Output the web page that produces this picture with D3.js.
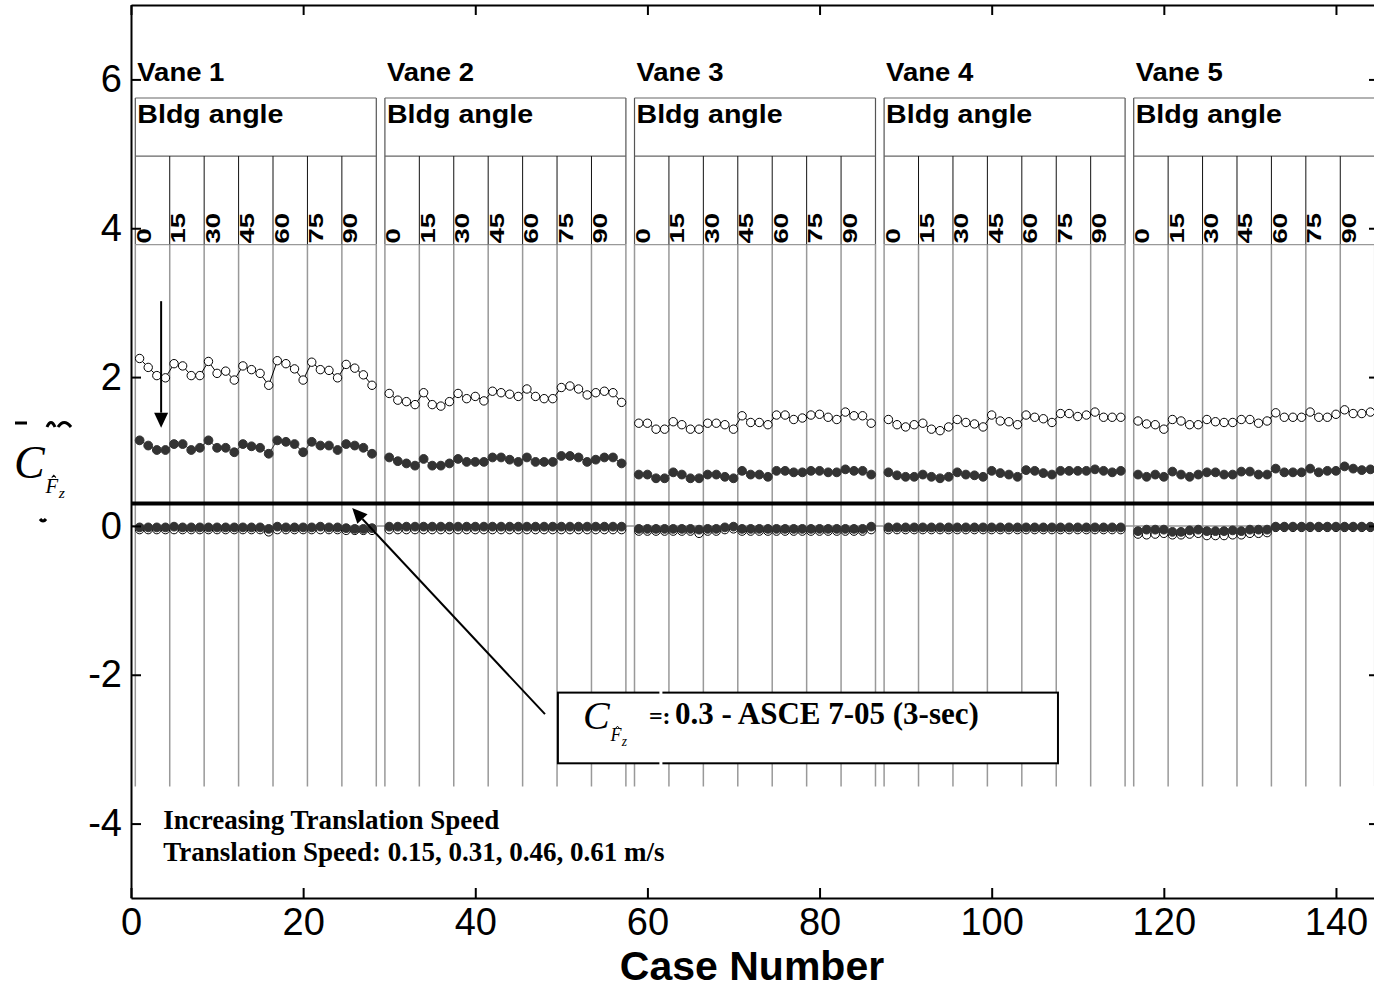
<!DOCTYPE html>
<html>
  <head>
    <meta charset="utf-8">
    <title>Vertical force coefficient by case</title>
    <script src="https://d3js.org/d3.v7.min.js"></script>
    <style>
      body { margin: 0; background: #fff; }
      svg { display: block; font-family: "Liberation Sans", Arial, sans-serif; }
      .axis text { font-size: 38px; fill: #000; font-family: "Liberation Sans", Arial, sans-serif; }
      .axis path, .axis line { stroke: #000; stroke-width: 2; }
      .serif { font-family: "Liberation Serif", "Times New Roman", serif; }
    </style>
  </head>
  <body>
    <svg id="chart" width="1374" height="990"></svg>
    <script>
      // values: 5 vanes x 7 bldg angles x 4 speeds = 28 cases per vane
      const vanes = ["Vane 1", "Vane 2", "Vane 3", "Vane 4", "Vane 5"];
      const bldgAngles = ["0", "15", "30", "45", "60", "75", "90"];
      const xTicks = [0, 20, 40, 60, 80, 100, 120, 140];
      const yTicks = [-4, -2, 0, 2, 4, 6];
      const asceLimit = 0.3;
      const noteLines = ["Increasing Translation Speed", "Translation Speed: 0.15, 0.31, 0.46, 0.61 m/s"];

      // peak (open circles)
      const peakOpen = [
        2.25, 2.13, 2.02, 1.99, 2.18, 2.15, 2.02, 2.02, 2.21, 2.05, 2.08, 1.96, 2.15, 2.10, 2.05, 1.89, 2.22, 2.18, 2.11, 1.96, 2.20, 2.10, 2.09, 1.99, 2.17, 2.12, 2.03, 1.89,
        1.78, 1.69, 1.67, 1.63, 1.79, 1.63, 1.61, 1.67, 1.78, 1.71, 1.74, 1.68, 1.81, 1.79, 1.77, 1.74, 1.84, 1.74, 1.71, 1.71, 1.86, 1.88, 1.84, 1.76, 1.79, 1.81, 1.79, 1.66,
        1.38, 1.38, 1.30, 1.30, 1.40, 1.36, 1.30, 1.30, 1.38, 1.38, 1.36, 1.30, 1.48, 1.39, 1.39, 1.36, 1.49, 1.49, 1.43, 1.45, 1.49, 1.50, 1.46, 1.43, 1.53, 1.48, 1.48, 1.38,
        1.43, 1.36, 1.33, 1.36, 1.38, 1.30, 1.28, 1.33, 1.43, 1.39, 1.37, 1.33, 1.49, 1.41, 1.40, 1.36, 1.49, 1.46, 1.44, 1.39, 1.51, 1.51, 1.47, 1.49, 1.53, 1.46, 1.46, 1.46,
        1.41, 1.37, 1.36, 1.30, 1.43, 1.41, 1.36, 1.36, 1.43, 1.40, 1.39, 1.39, 1.43, 1.43, 1.38, 1.41, 1.52, 1.46, 1.46, 1.46, 1.53, 1.46, 1.46, 1.50, 1.56, 1.51, 1.51, 1.53
      ];
      // mean (filled circles)
      const meanFilled = [
        1.15, 1.08, 1.02, 1.02, 1.10, 1.10, 1.02, 1.05, 1.15, 1.05, 1.05, 0.99, 1.10, 1.07, 1.05, 0.97, 1.15, 1.13, 1.10, 0.99, 1.13, 1.08, 1.08, 1.02, 1.10, 1.08, 1.05, 0.97,
        0.92, 0.87, 0.84, 0.81, 0.90, 0.81, 0.81, 0.84, 0.90, 0.86, 0.86, 0.86, 0.92, 0.92, 0.89, 0.86, 0.92, 0.86, 0.86, 0.86, 0.94, 0.94, 0.92, 0.86, 0.89, 0.92, 0.92, 0.84,
        0.69, 0.69, 0.64, 0.64, 0.72, 0.69, 0.64, 0.64, 0.69, 0.69, 0.66, 0.64, 0.74, 0.69, 0.69, 0.66, 0.74, 0.74, 0.72, 0.72, 0.74, 0.74, 0.72, 0.72, 0.76, 0.74, 0.74, 0.69,
        0.72, 0.68, 0.66, 0.66, 0.69, 0.66, 0.64, 0.66, 0.72, 0.69, 0.68, 0.66, 0.74, 0.71, 0.69, 0.66, 0.75, 0.74, 0.71, 0.69, 0.74, 0.74, 0.74, 0.74, 0.76, 0.74, 0.72, 0.74,
        0.69, 0.66, 0.69, 0.66, 0.73, 0.69, 0.66, 0.69, 0.72, 0.72, 0.69, 0.69, 0.73, 0.73, 0.69, 0.69, 0.77, 0.72, 0.72, 0.72, 0.77, 0.72, 0.74, 0.74, 0.80, 0.77, 0.75, 0.76
      ];
      // minimum (open and filled, near zero)
      const minOpen = [
        -0.05, -0.05, -0.05, -0.05, -0.05, -0.05, -0.05, -0.05, -0.05, -0.05, -0.05, -0.05, -0.05, -0.05, -0.05, -0.08, -0.05, -0.05, -0.05, -0.05, -0.05, -0.05, -0.05, -0.05, -0.06, -0.06, -0.06, -0.06,
        -0.05, -0.05, -0.05, -0.05, -0.05, -0.05, -0.05, -0.05, -0.05, -0.05, -0.05, -0.05, -0.05, -0.05, -0.05, -0.05, -0.05, -0.05, -0.05, -0.05, -0.05, -0.05, -0.05, -0.05, -0.05, -0.05, -0.05, -0.05,
        -0.07, -0.07, -0.07, -0.07, -0.07, -0.07, -0.07, -0.10, -0.07, -0.07, -0.05, -0.04, -0.07, -0.07, -0.07, -0.07, -0.07, -0.07, -0.07, -0.07, -0.07, -0.07, -0.07, -0.07, -0.07, -0.07, -0.07, -0.05,
        -0.05, -0.05, -0.05, -0.05, -0.05, -0.05, -0.05, -0.05, -0.05, -0.05, -0.05, -0.05, -0.05, -0.05, -0.05, -0.05, -0.05, -0.05, -0.05, -0.05, -0.05, -0.05, -0.05, -0.05, -0.05, -0.05, -0.05, -0.05,
        -0.11, -0.12, -0.11, -0.10, -0.12, -0.12, -0.11, -0.10, -0.13, -0.13, -0.13, -0.12, -0.12, -0.10, -0.10, -0.09, -0.02, -0.02, -0.02, -0.02, -0.02, -0.02, -0.02, -0.02, -0.02, -0.02, -0.02, -0.02
      ];
      const minFilled = [
        -0.02, -0.02, -0.02, -0.02, -0.01, -0.02, -0.02, -0.02, -0.02, -0.02, -0.02, -0.02, -0.02, -0.02, -0.02, -0.04, -0.01, -0.02, -0.02, -0.02, -0.02, -0.01, -0.02, -0.02, -0.03, -0.04, -0.04, -0.03,
        -0.01, -0.01, -0.01, -0.01, -0.01, -0.01, -0.01, -0.01, -0.01, -0.01, -0.01, -0.01, -0.01, -0.01, -0.01, -0.01, -0.01, -0.01, -0.01, -0.01, -0.01, -0.01, -0.01, -0.01, -0.01, -0.01, -0.01, -0.01,
        -0.04, -0.04, -0.04, -0.04, -0.04, -0.04, -0.04, -0.05, -0.04, -0.04, -0.02, -0.01, -0.04, -0.04, -0.04, -0.04, -0.04, -0.04, -0.04, -0.04, -0.04, -0.04, -0.04, -0.04, -0.04, -0.04, -0.04, -0.01,
        -0.02, -0.02, -0.02, -0.02, -0.02, -0.02, -0.02, -0.02, -0.02, -0.02, -0.02, -0.02, -0.02, -0.02, -0.02, -0.02, -0.02, -0.02, -0.02, -0.02, -0.02, -0.02, -0.02, -0.02, -0.02, -0.02, -0.02, -0.02,
        -0.07, -0.05, -0.05, -0.05, -0.08, -0.08, -0.06, -0.05, -0.07, -0.07, -0.07, -0.06, -0.07, -0.05, -0.05, -0.05, -0.01, -0.01, -0.01, -0.01, -0.01, -0.01, -0.01, -0.01, -0.01, -0.01, -0.01, -0.01
      ];

      const perVane = 28;
      // one empty case between vanes: vane 1 = 1..28, vane 2 = 30..57, ...
      function caseNo(i) { return Math.floor(i / perVane) * (perVane + 1) + (i % perVane) + 1; }

      // layout (data units)
      const boxTop = 5.75, boxMid = 4.97, labelBottom = 3.78, boxBottom = -3.5;

      const svg = d3.select("#chart");
      const x = d3.scaleLinear().domain([0, 145]).range([131, 1379]);
      const y = d3.scaleLinear().domain([-5, 7]).range([898, 5]);

      svg.append("rect").attr("width", 1374).attr("height", 990).attr("fill", "#fff");

      // vane header boxes and angle columns
      const vaneGroup = svg.append("g");
      vanes.forEach(function(name, v) {
        const first = v * (perVane + 1) + 1;
        const x0 = x(first - 0.5), x1 = x(first + perVane - 0.5);
        const g = vaneGroup.append("g");
        // outer edges
        [x0, x1].forEach(function(xx) {
          g.append("line").attr("x1", xx).attr("x2", xx).attr("y1", y(boxTop)).attr("y2", y(labelBottom))
            .attr("stroke", "#555").attr("stroke-width", 1.2);
          g.append("line").attr("x1", xx).attr("x2", xx).attr("y1", y(labelBottom)).attr("y2", y(boxBottom))
            .attr("stroke", "#999").attr("stroke-width", 1.5);
        });
        [boxTop, boxMid, labelBottom].forEach(function(level) {
          g.append("line").attr("x1", x0).attr("x2", x1).attr("y1", y(level)).attr("y2", y(level))
            .attr("stroke", level == labelBottom ? "#999" : "#666").attr("stroke-width", 1.2);
        });
        bldgAngles.forEach(function(a, k) {
          const cx = x(first - 0.5 + k * 4);
          if (k > 0) {
            g.append("line").attr("x1", cx).attr("x2", cx).attr("y1", y(boxMid)).attr("y2", y(labelBottom))
              .attr("stroke", "#111").attr("stroke-width", 1);
            g.append("line").attr("x1", cx).attr("x2", cx).attr("y1", y(labelBottom)).attr("y2", y(boxBottom))
              .attr("stroke", "#999").attr("stroke-width", 1.5);
          }
          g.append("text")
            .attr("transform", "translate(" + (cx + 15.5) + "," + (y(labelBottom) - 1) + ") rotate(-90) scale(1.1,0.8)")
            .attr("font-size", 25).attr("font-weight", "bold")
            .text(a);
        });
        g.append("text").attr("transform", "translate(" + (x0 + 2) + ",81) scale(1.1,1)")
          .attr("font-size", 25).attr("font-weight", "bold").text(name);
        g.append("text").attr("transform", "translate(" + (x0 + 2) + ",123) scale(1.1,1)")
          .attr("font-size", 26).attr("font-weight", "bold").text("Bldg angle");
      });

      // zero line and ASCE limit
      svg.append("line").attr("x1", x(0)).attr("x2", x(145)).attr("y1", y(0)).attr("y2", y(0))
        .attr("stroke", "#999").attr("stroke-width", 1.5);
      svg.append("line").attr("x1", x(0)).attr("x2", x(145)).attr("y1", y(asceLimit)).attr("y2", y(asceLimit))
        .attr("stroke", "#000").attr("stroke-width", 4);

      // series
      const line = d3.line().x(function(d) { return x(d.c); }).y(function(d) { return y(d.v); });
      function drawSeries(values, filled) {
        const pts = values.map(function(v, i) { return { c: caseNo(i), v: v, vane: Math.floor(i / perVane) }; });
        const g = svg.append("g");
        d3.groups(pts, function(d) { return d.vane; }).forEach(function(grp) {
          g.append("path").attr("d", line(grp[1])).attr("fill", "none")
            .attr("stroke", filled ? "#333" : "#000").attr("stroke-width", 1);
        });
        g.selectAll("circle").data(pts).enter().append("circle")
          .attr("cx", function(d) { return x(d.c); })
          .attr("cy", function(d) { return y(d.v); })
          .attr("r", filled ? 4.4 : 4.2)
          .attr("fill", filled ? "#333" : "#fff")
          .attr("stroke", filled ? "#333" : "#000")
          .attr("stroke-width", 1);
      }
      drawSeries(peakOpen, false);
      drawSeries(meanFilled, true);
      drawSeries(minOpen, false);
      drawSeries(minFilled, true);

      // arrows
      function arrow(c0, v0, c1, v1) {
        const ax = x(c0), ay = y(v0), bx = x(c1), by = y(v1);
        const ang = Math.atan2(by - ay, bx - ax), len = 15, half = 7;
        const hx = bx - len * Math.cos(ang), hy = by - len * Math.sin(ang);
        svg.append("line").attr("x1", ax).attr("y1", ay).attr("x2", hx).attr("y2", hy)
          .attr("stroke", "#000").attr("stroke-width", 2);
        svg.append("path")
          .attr("d", "M" + bx + "," + by +
            "L" + (hx + half * Math.sin(ang)) + "," + (hy - half * Math.cos(ang)) +
            "L" + (hx - half * Math.sin(ang)) + "," + (hy + half * Math.cos(ang)) + "Z")
          .attr("fill", "#000");
      }
      arrow(3.5, 3.02, 3.5, 1.32);
      arrow(48.1, -2.53, 25.7, 0.24);

      // coefficient symbol C with subscript F-hat z; the hat is a small stroke
      function coefSymbol(sel, s) {
        const t = sel.append("text").attr("class", "serif").attr("font-style", "italic");
        t.append("tspan").attr("font-size", s).text("C");
        t.append("tspan").attr("font-size", s * 0.45).attr("dx", s * 0.02).attr("dy", s * 0.32).text("F");
        t.append("tspan").attr("font-size", s * 0.34).attr("dx", s * 0.01).attr("dy", s * 0.12).text("z");
        sel.append("path")
          .attr("d", "M" + (s * 0.82) + "," + (-s * 0.01) + "L" + (s * 0.865) + "," + (-s * 0.06) +
            "L" + (s * 0.91) + "," + (-s * 0.01))
          .attr("fill", "none").attr("stroke", "#000").attr("stroke-width", Math.max(1, s * 0.025));
      }

      // annotation box
      const bx0 = x(49.6), bx1 = x(107.7), by0 = y(-2.24), by1 = y(-3.19);
      svg.append("rect").attr("x", bx0).attr("y", by0).attr("width", bx1 - bx0).attr("height", by1 - by0)
        .attr("fill", "#fff").attr("stroke", "#000").attr("stroke-width", 2);
      svg.append("line").attr("x1", bx0 + 103).attr("x2", bx0 + 103).attr("y1", by0 - 3).attr("y2", by1 + 3)
        .attr("stroke", "#fff").attr("stroke-width", 3);
      coefSymbol(svg.append("g").attr("transform", "translate(" + (bx0 + 25) + "," + (by0 + 36) + ")"), 40);
      svg.append("text").attr("class", "serif").attr("x", bx0 + 91).attr("y", by0 + 31)
        .attr("font-size", 24).attr("font-weight", "bold").text("=:");
      svg.append("text").attr("class", "serif").attr("x", bx0 + 117).attr("y", by0 + 31)
        .attr("font-size", 31).attr("font-weight", "bold")
        .text("0.3 - ASCE 7-05 (3-sec)");

      // speed notes
      svg.append("g").attr("class", "serif").selectAll("text").data(noteLines).enter().append("text")
        .attr("x", x(3.75))
        .attr("y", function(d, i) { return 829 + i * 32; })
        .attr("font-size", 27).attr("font-weight", "bold")
        .text(function(d) { return d; });

      // axes (ticks point inward on all four sides)
      svg.append("g").attr("class", "axis").attr("transform", "translate(" + x(0) + ",0)")
        .call(d3.axisLeft(y).tickValues(yTicks).tickSizeInner(-10).tickSizeOuter(0).tickPadding(9)
          .tickFormat(function(d) { return String(d); }));
      svg.append("g").attr("class", "axis").attr("transform", "translate(" + x(145) + ",0)")
        .call(d3.axisRight(y).tickValues(yTicks).tickSizeInner(-10).tickSizeOuter(0).tickFormat(""));
      svg.append("g").attr("class", "axis").attr("transform", "translate(0," + y(-5) + ")")
        .call(d3.axisBottom(x).tickValues(xTicks).tickSizeInner(-10).tickSizeOuter(0).tickPadding(10)
          .tickFormat(function(d) { return String(d); }));
      svg.append("g").attr("class", "axis").attr("transform", "translate(0," + y(7) + ")")
        .call(d3.axisTop(x).tickValues(xTicks).tickSizeInner(-10).tickSizeOuter(0).tickFormat(""));

      svg.append("text").attr("x", 752).attr("y", 980).attr("text-anchor", "middle")
        .attr("font-size", 41).attr("font-weight", "bold").text("Case Number");

      // y label
      const ylab = svg.append("g").attr("transform", "translate(14,478)");
      coefSymbol(ylab, 46);
      // clipped remains of the original label
      ylab.append("path")
        .attr("d", "M1,-55L13,-55M33,-51Q37,-60 41,-51M44,-51Q50,-60 57,-51M26,41Q29,45 32,41")
        .attr("fill", "none").attr("stroke", "#000").attr("stroke-width", 3);
    </script>
  </body>
</html>
